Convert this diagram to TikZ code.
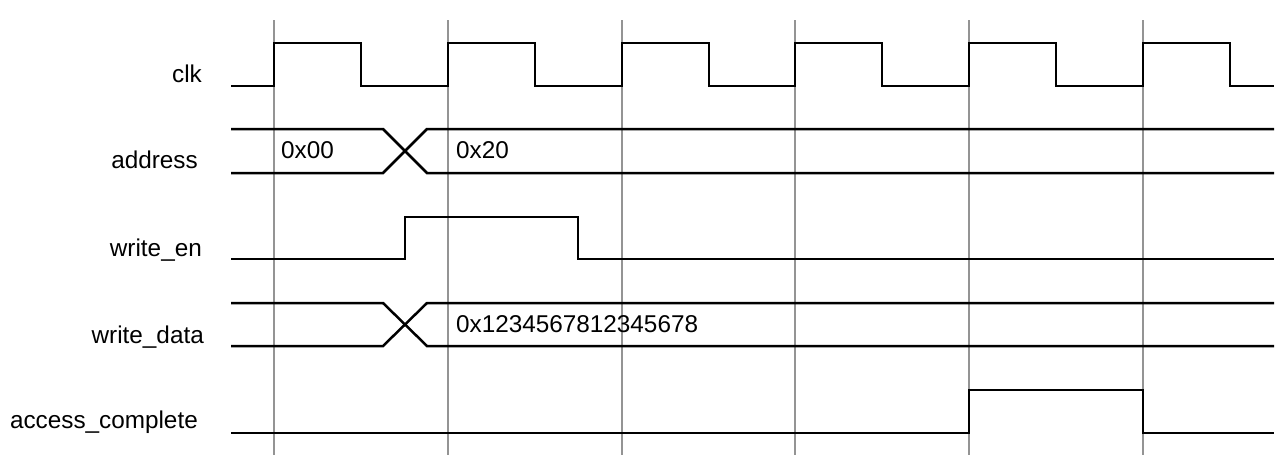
\documentclass[tikz,border=0pt]{standalone}
\usepackage{fontspec}
\setmainfont{Liberation Sans}
\begin{document}
\begin{tikzpicture}[x=1pt,y=-1pt,
  gridline/.style={draw=black!42,line width=1.6pt},
  wave/.style={draw=black,line width=2.5pt,line join=miter},
  siglabel/.style={anchor=base east,inner sep=0pt,font=\fontsize{24.3}{29}\selectfont},
  vallabel/.style={anchor=base west,inner sep=0pt,font=\fontsize{24.3}{29}\selectfont}]
\useasboundingbox (0,0) rectangle (1284,475);
% grid
\foreach \gx in {274,448,622,795,969,1143}
  \draw[gridline] (\gx,20) -- (\gx,455);
% labels
\node[siglabel] (lclk) at (202,82) {clk};
\node[siglabel] (laddr) at (198,168) {address};
\node[siglabel] (lwen) at (202,256) {write\_en};
\node[siglabel] (lwdata) at (204,343) {write\_data};
\node[siglabel] (lacc) at (198,428) {access\_complete};
% clk
\draw[wave] (231,86) -- (274,86) -- (274,43) -- (361,43) -- (361,86) -- (448,86) -- (448,43) -- (535,43) -- (535,86) -- (622,86) -- (622,43) -- (709,43) -- (709,86) -- (795,86) -- (795,43) -- (882,43) -- (882,86) -- (969,86) -- (969,43) -- (1056,43) -- (1056,86) -- (1143,86) -- (1143,43) -- (1230,43) -- (1230,86) -- (1274,86);
% address
\draw[wave] (231,129) -- (383,129) -- (427,173) -- (1274,173);
\draw[wave] (231,173) -- (383,173) -- (427,129) -- (1274,129);
\node[vallabel] (vaddr0) at (281,158) {0x00};
\node[vallabel] (vaddr1) at (456,158) {0x20};
% write_en
\draw[wave] (231,259) -- (405,259) -- (405,217) -- (578,217) -- (578,259) -- (1274,259);
% write_data
\draw[wave] (231,303) -- (383,303) -- (427,346) -- (1274,346);
\draw[wave] (231,346) -- (383,346) -- (427,303) -- (1274,303);
\node[vallabel] (vdata) at (456,332) {0x1234567812345678};
% access_complete
\draw[wave] (231,433) -- (969,433) -- (969,390) -- (1143,390) -- (1143,433) -- (1274,433);
\end{tikzpicture}
\end{document}
